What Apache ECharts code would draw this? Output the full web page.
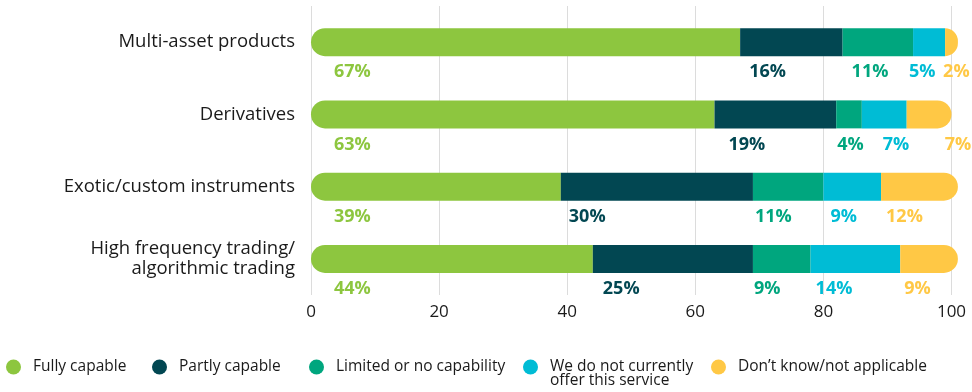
<!DOCTYPE html>
<html>
<head>
<meta charset="utf-8">
<script src="https://cdn.jsdelivr.net/npm/echarts@6/dist/echarts.min.js"></script>
<style>
  html, body { margin: 0; padding: 0; background: #ffffff; }
  #chart { width: 972px; height: 392px; }
</style>
</head>
<body>
<div id="chart"></div>
<script>
// Capability survey: share of respondents (%) per product area
const categories = [
  'Multi-asset products',
  'Derivatives',
  'Exotic/custom instruments',
  'High frequency trading/\nalgorithmic trading'
];
const seriesNames = [
  'Fully capable',
  'Partly capable',
  'Limited or no capability',
  'We do not currently offer this service',
  'Don\u2019t know/not applicable'
];
const fullyCapable      = [67, 63, 39, 44];
const partlyCapable     = [16, 19, 30, 25];
const limitedCapability = [11,  4, 11,  9];
const notOffered        = [ 5,  7,  9, 14];
const dontKnow          = [ 2,  7, 12,  9];
const xTicks = [0, 20, 40, 60, 80, 100];

const seriesValues = [fullyCapable, partlyCapable, limitedCapability, notOffered, dontKnow];
const colors = ['#8dc63f', '#024752', '#00a67e', '#00bcd5', '#ffc845'];

// horizontal nudge (px) of each percentage label from its segment's left edge
const labelNudge = [
  [23, 23, 23, 23],
  [ 9, 14,  8, 10],
  [ 9,  1,  2,  1],
  [-4, 21,  7,  5],
  [-2, 38,  5,  4]
];

const FONT = 'Open Sans';
const BAR_H = 28;
const R = BAR_H / 2;

const series = seriesNames.map((name, s) => ({
  name,
  type: 'bar',
  stack: 'total',
  barWidth: BAR_H,
  clip: false,
  itemStyle: {
    color: colors[s],
    borderRadius: s === 0 ? [R, 0, 0, R] : (s === seriesNames.length - 1 ? [0, R, R, 0] : 0)
  },
  label: {
    show: true,
    align: 'left',
    verticalAlign: 'middle',
    color: colors[s],
    fontFamily: FONT,
    fontWeight: 700,
    fontSize: 18,
    formatter: p => p.value + '%'
  },
  emphasis: { disabled: true },
  data: seriesValues[s].map((v, i) => ({
    value: v,
    label: { position: [labelNudge[s][i], BAR_H + 16] }
  }))
}));

// one legend block per entry so each sits at its own column
const legendLeft = [6, 152, 309, 523, 711];
const legends = seriesNames.map((name, s) => ({
  data: [name],
  left: legendLeft[s],
  top: 359,
  padding: 0,
  icon: 'circle',
  itemWidth: 15,
  itemHeight: 15,
  selectedMode: false,
  formatter: n => '{sp|}' + (s === 3 ? 'We do not currently' : n),
  textStyle: {
    fontFamily: FONT, fontSize: 15.5, color: '#1a1a1a',
    rich: { sp: { width: 7 } }
  }
}));

const chart = echarts.init(document.getElementById('chart'), null, { renderer: 'canvas' });
chart.setOption({
  animation: false,
  color: colors,
  grid: { left: 311, right: 20.5, top: 6, bottom: 97, containLabel: false },
  xAxis: {
    type: 'value',
    min: xTicks[0],
    max: xTicks[xTicks.length - 1],
    interval: xTicks[1] - xTicks[0],
    axisLine: { show: false },
    axisTick: { show: false },
    splitLine: { show: true, lineStyle: { color: '#dcdcdc', width: 1 } },
    axisLabel: { fontFamily: FONT, fontSize: 17, color: '#1a1a1a', margin: 9 }
  },
  yAxis: {
    type: 'category',
    inverse: true,
    data: categories,
    axisLine: { show: false },
    axisTick: { show: false },
    axisLabel: { fontFamily: FONT, fontSize: 18.5, color: '#1a1a1a', margin: 16, lineHeight: 20, align: 'right' }
  },
  legend: legends,
  graphic: [{
    type: 'text',
    left: 550,
    top: 373,
    style: { text: 'offer this service', fontFamily: FONT, fontSize: 15.5, fill: '#1a1a1a' }
  }],
  series
});
</script>
</body>
</html>
